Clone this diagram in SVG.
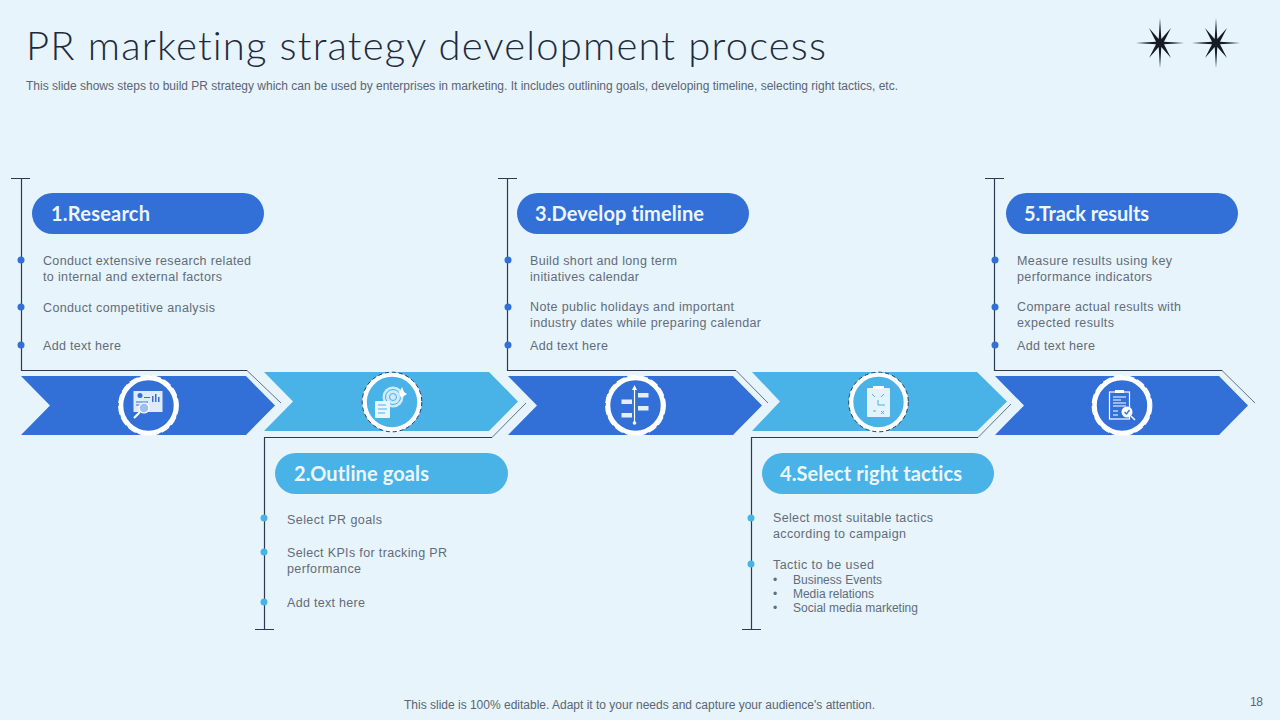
<svg xmlns="http://www.w3.org/2000/svg" width="1280" height="720" viewBox="0 0 1280 720">
<style>
.title{font-family:"Lato","Open Sans",sans-serif;font-size:40px;font-weight:300;font-variant-ligatures:none;fill:#1f2b3d}
.sub{font-family:"Liberation Sans",Arial,sans-serif;font-size:12px;fill:#5b6573}
.body{font-family:"Liberation Sans",Arial,sans-serif;font-size:12.500px;fill:#626c7a}
.small{font-family:"Liberation Sans",Arial,sans-serif;font-size:12px;fill:#626c7a}
.head{font-family:"Lato","Open Sans",sans-serif;font-size:20px;font-weight:700;font-variant-ligatures:none;fill:#eef6fc}
.dk{fill:#3270d8}.lt{fill:#49b3e8}
.ln{fill:none;stroke:#2b3a54;stroke-width:1.200}
.dg{fill:none;stroke:#2b3a54;stroke-width:.7}
.ring{fill:none;stroke:#fff;stroke-width:4.600}
.dsw{fill:none;stroke:#fff;stroke-width:1.200;stroke-dasharray:9 3}
.dsd{fill:none;stroke:#2b3a54;stroke-width:1;stroke-dasharray:4 3}
.w{fill:#fff;stroke:none}
.o{fill:none;stroke:#fff;stroke-width:1.200}
</style>
<defs>
<g id="star"><polygon fill="#161b26" points="0,-25 1.300,-4 11,-15 4,-1.300 24,0 4,1.300 11,15 1.300,4 0,25 -1.300,4 -11,15 -4,1.300 -24,0 -4,-1.300 -11,-15 -1.300,-4"/><circle cx="0" cy="0" r="2.500" fill="#161b26"/></g>
</defs>
<rect width="1280" height="720" fill="#e7f4fb"/>
<text class="title" x="26" y="60" textLength="800">PR marketing strategy development process</text>
<text class="sub" x="26" y="90" textLength="872">This slide shows steps to build PR strategy which can be used by enterprises in marketing. It includes outlining goals, developing timeline, selecting right tactics, etc.</text>
<g id="stars"><use href="#star" x="1160" y="43"/><use href="#star" x="1216" y="43"/></g>

<g id="connectors">
<path class="ln" d="M11 178.500H30M21.500 178.500V370.500H247"/><path class="dg" d="M247 370.500L281 403"/>
<path class="ln" d="M255 629.500H274M264.500 629.500V437.500H492"/><path class="dg" d="M492 437.500L526 403"/>
<path class="ln" d="M498 178.500H517M507.500 178.500V370.500H736"/><path class="dg" d="M736 370.500L768 403"/>
<path class="ln" d="M742 629.500H761M751.500 629.500V437.500H978"/><path class="dg" d="M978 437.500L1011 404"/>
<path class="ln" d="M985 178.500H1004M994.500 178.500V370.500H1222"/><path class="dg" d="M1222 370.500L1255 403"/>
</g>

<g id="step1">
<polygon class="dk" points="21,376 246,376 275,405.500 246,435 21,435 50,405.500"/>
<circle class="ring" cx="148.500" cy="405.500" r="27.500"/><circle class="dsw" cx="148.500" cy="405.500" r="29.800"/>
<rect class="dk" x="32" y="193" width="232" height="41" rx="20.500"/>
<text class="head" x="51" y="220.500" textLength="99">1.Research</text>
<circle class="dk" cx="21" cy="260" r="3.500"/><circle class="dk" cx="21" cy="307" r="3.500"/><circle class="dk" cx="21" cy="345" r="3.500"/>
<text class="body" x="43" y="265" textLength="208">Conduct extensive research related</text>
<text class="body" x="43" y="281" textLength="179">to internal and external factors</text>
<text class="body" x="43" y="312" textLength="172">Conduct competitive analysis</text>
<text class="body" x="43" y="350" textLength="78">Add text here</text>
<g id="icon1"><rect x="133.500" y="391" width="29" height="21" fill="#dfeafa"/><circle cx="140" cy="395.500" r="2.500" fill="#3270d8"/><rect x="144" y="397" width="6" height="1" fill="#3270d8"/><rect x="152" y="396" width="1.500" height="6" fill="#3270d8"/><rect x="155" y="394" width="1.500" height="8" fill="#3270d8"/><rect x="158" y="397" width="1.500" height="5" fill="#3270d8"/><path d="M136 402H148M136 405H146" stroke="#3270d8" fill="none"/><circle cx="144" cy="408" r="5" fill="#9fc0ee" stroke="#fff" stroke-width="1.200"/><path class="o" style="stroke-width:2.200" d="M140 412L134 418"/></g>
</g>

<g id="step2">
<polygon class="lt" points="264,372 489,372 518,401.500 489,431 264,431 293,401.500"/>
<circle class="ring" cx="392" cy="402" r="27.500"/><circle class="dsd" cx="392" cy="402" r="29.800"/>
<rect class="lt" x="275" y="453" width="233" height="41" rx="20.500"/>
<text class="head" x="294" y="480.500" textLength="135">2.Outline goals</text>
<circle class="lt" cx="264" cy="518" r="3.500"/><circle class="lt" cx="264" cy="552" r="3.500"/><circle class="lt" cx="264" cy="602" r="3.500"/>
<text class="body" x="287" y="524" textLength="95">Select PR goals</text>
<text class="body" x="287" y="557" textLength="160">Select KPIs for tracking PR</text>
<text class="body" x="287" y="573" textLength="74">performance</text>
<text class="body" x="287" y="607" textLength="78">Add text here</text>
<g id="icon2"><circle cx="393" cy="397" r="10.500" fill="#cfeafa"/><circle cx="393" cy="397" r="7.500" fill="none" stroke="#49b3e8"/><circle cx="393" cy="397" r="3.500" fill="none" stroke="#49b3e8"/><polygon class="w" points="399,393 402,387 404,392 407,394 401,398"/><rect x="375" y="401" width="15" height="17" rx="1" fill="#eaf6fd"/><path d="M378 405H386M378 409H387M378 413H385" stroke="#49b3e8" fill="none"/></g>
</g>

<g id="step3">
<polygon class="dk" points="508,376 733,376 762,405.500 733,435 508,435 537,405.500"/>
<circle class="ring" cx="635.500" cy="405.500" r="27.500"/><circle class="dsw" cx="635.500" cy="405.500" r="29.800"/>
<rect class="dk" x="517" y="193" width="232" height="41" rx="20.500"/>
<text class="head" x="535" y="220.500" textLength="169">3.Develop timeline</text>
<circle class="dk" cx="508" cy="260" r="3.500"/><circle class="dk" cx="508" cy="307" r="3.500"/><circle class="dk" cx="508" cy="345" r="3.500"/>
<text class="body" x="530" y="265" textLength="147">Build short and long term</text>
<text class="body" x="530" y="281" textLength="109">initiatives calendar</text>
<text class="body" x="530" y="311" textLength="204">Note public holidays and important</text>
<text class="body" x="530" y="327" textLength="231">industry dates while preparing calendar</text>
<text class="body" x="530" y="350" textLength="78">Add text here</text>
<g id="icon3"><path class="o" d="M634.500 388V423"/><polygon class="w" points="634.500,385 637,390 632,390"/><circle class="w" cx="634.500" cy="423" r="1.800"/><rect x="638" y="393" width="10.500" height="4.500" fill="#e4eefb"/><rect x="638" y="406" width="10.500" height="4.500" fill="#e4eefb"/><rect x="621.500" y="399.500" width="10.500" height="4.500" fill="#e4eefb"/><rect x="621.500" y="413" width="10.500" height="4.500" fill="#e4eefb"/></g>
</g>

<g id="step4">
<polygon class="lt" points="752,372 977,372 1007,401.500 977,431 752,431 780,401.500"/>
<circle class="ring" cx="878.500" cy="402" r="27.500"/><circle class="dsd" cx="878.500" cy="402" r="29.800"/>
<rect class="lt" x="762" y="453" width="232" height="41" rx="20.500"/>
<text class="head" x="780" y="480.500" textLength="182">4.Select right tactics</text>
<circle class="lt" cx="751" cy="518" r="3.500"/><circle class="lt" cx="751" cy="564" r="3.500"/>
<text class="body" x="773" y="522" textLength="160">Select most suitable tactics</text>
<text class="body" x="773" y="538" textLength="133">according to campaign</text>
<text class="body" x="773" y="569" textLength="101">Tactic to be used</text>
<text class="small" x="773" y="584">•</text><text class="small" x="793" y="584" textLength="89">Business Events</text>
<text class="small" x="773" y="598">•</text><text class="small" x="793" y="598" textLength="81">Media relations</text>
<text class="small" x="773" y="612">•</text><text class="small" x="793" y="612" textLength="125">Social media marketing</text>
<g id="icon4"><rect x="867" y="388" width="23" height="29" rx="1" fill="#e2f3fc"/><rect class="w" x="873" y="386" width="11" height="3"/><path d="M872 394L875 397M884 394L881 397M878 400V405H885M873 411h3M881 411l3 3M884 411l-3 3" fill="none" stroke="#49b3e8"/></g>
</g>

<g id="step5">
<polygon class="dk" points="995,376 1219,376 1248,405.500 1219,435 995,435 1024,405.500"/>
<circle class="ring" cx="1122" cy="405.500" r="27.500"/><circle class="dsw" cx="1122" cy="405.500" r="29.800"/>
<rect class="dk" x="1006" y="193" width="232" height="41" rx="20.500"/>
<text class="head" x="1024" y="220.500" textLength="125">5.Track results</text>
<circle class="dk" cx="995" cy="260" r="3.500"/><circle class="dk" cx="995" cy="307" r="3.500"/><circle class="dk" cx="995" cy="345" r="3.500"/>
<text class="body" x="1017" y="265" textLength="155">Measure results using key</text>
<text class="body" x="1017" y="281" textLength="135">performance indicators</text>
<text class="body" x="1017" y="311" textLength="164">Compare actual results with</text>
<text class="body" x="1017" y="327" textLength="97">expected results</text>
<text class="body" x="1017" y="350" textLength="78">Add text here</text>
<g id="icon5"><rect class="o" x="1109.500" y="392" width="20" height="27"/><rect class="w" x="1115" y="390" width="9" height="3"/><path class="o" d="M1113 397H1126M1113 400H1121M1113 403H1126M1113 406H1126M1113 411H1118M1113 415H1118"/><circle class="w" cx="1127" cy="412" r="5.500"/><path d="M1124.500 412L1126.500 414L1129.500 410" fill="none" stroke="#3270d8" stroke-width="1.300"/><path class="o" style="stroke-width:1.500" d="M1131 416L1135 420"/></g>
</g>

<text class="sub" x="404" y="708.500" textLength="471">This slide is 100% editable. Adapt it to your needs and capture your audience's attention.</text>
<text class="sub" x="1250" y="706" textLength="13">18</text>
</svg>
